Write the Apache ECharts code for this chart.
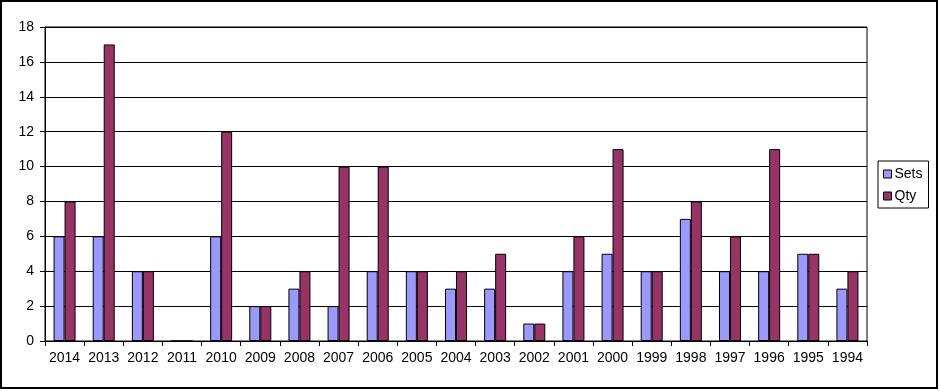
<!DOCTYPE html>
<html><head><meta charset="utf-8">
<script src="https://cdn.jsdelivr.net/npm/echarts@6/dist/echarts.min.js"></script>
<style>html,body{margin:0;padding:0;background:#fff}#c{width:940px;height:391px}</style>
</head><body><div id="c"></div>
<script>
const categories = ['2014','2013','2012','2011','2010','2009','2008','2007','2006','2005','2004','2003','2002','2001','2000','1999','1998','1997','1996','1995','1994'];
const sets = [6,6,4,0,6,2,3,2,4,4,3,3,1,4,5,4,7,4,4,5,3];
const qty = [8,17,4,0,12,2,4,10,10,4,4,5,1,6,11,4,8,6,11,5,4];
const yTicks = {min:0, max:18, interval:2};
const font = 'Liberation Sans, Arial, sans-serif';
const chart = echarts.init(document.getElementById('c'), null, {renderer:'canvas'});
chart.setOption({
  animation:false,
  backgroundColor:'#fff',
  graphic:[{type:'rect', shape:{x:1,y:1,width:936,height:387}, style:{fill:'none', stroke:'#000', lineWidth:2}, silent:true}],
  grid:{left:45, right:73, top:27, bottom:50, show:true, borderColor:'#000', borderWidth:1, backgroundColor:'#fff'},
  legend:{
    orient:'vertical', left:878, top:161, width:53,
    padding:[6,6,5,5], itemGap:8, itemWidth:8, itemHeight:8, icon:'rect',
    borderColor:'#000', borderWidth:1,
    textStyle:{fontFamily:font, fontSize:14, color:'#000', padding:[0,0,0,-2]},
    itemStyle:{borderColor:'#000', borderWidth:1},
    data:['Sets','Qty']
  },
  xAxis:{
    type:'category', data:categories,
    axisLine:{lineStyle:{color:'#000', width:1}},
    axisTick:{show:true, length:5, lineStyle:{color:'#000'}},
    axisLabel:{color:'#000', fontFamily:font, fontSize:14, margin:10, interval:0},
    splitLine:{show:false}
  },
  yAxis:{
    type:'value', min:yTicks.min, max:yTicks.max, interval:yTicks.interval,
    axisLine:{show:true, lineStyle:{color:'#000', width:1}},
    axisTick:{show:true, length:5, lineStyle:{color:'#000'}},
    axisLabel:{color:'#000', fontFamily:font, fontSize:14, margin:11},
    splitLine:{show:true, lineStyle:{color:'#000', width:1}}
  },
  series:[
    {name:'Sets', type:'bar', data:sets, barWidth:11, barGap:'0%',
     itemStyle:{color:'#9999FF', borderColor:'#000', borderWidth:1}},
    {name:'Qty', type:'bar', data:qty, barWidth:11, barGap:'0%',
     itemStyle:{color:'#993366', borderColor:'#000', borderWidth:1}}
  ]
});
</script></body></html>
